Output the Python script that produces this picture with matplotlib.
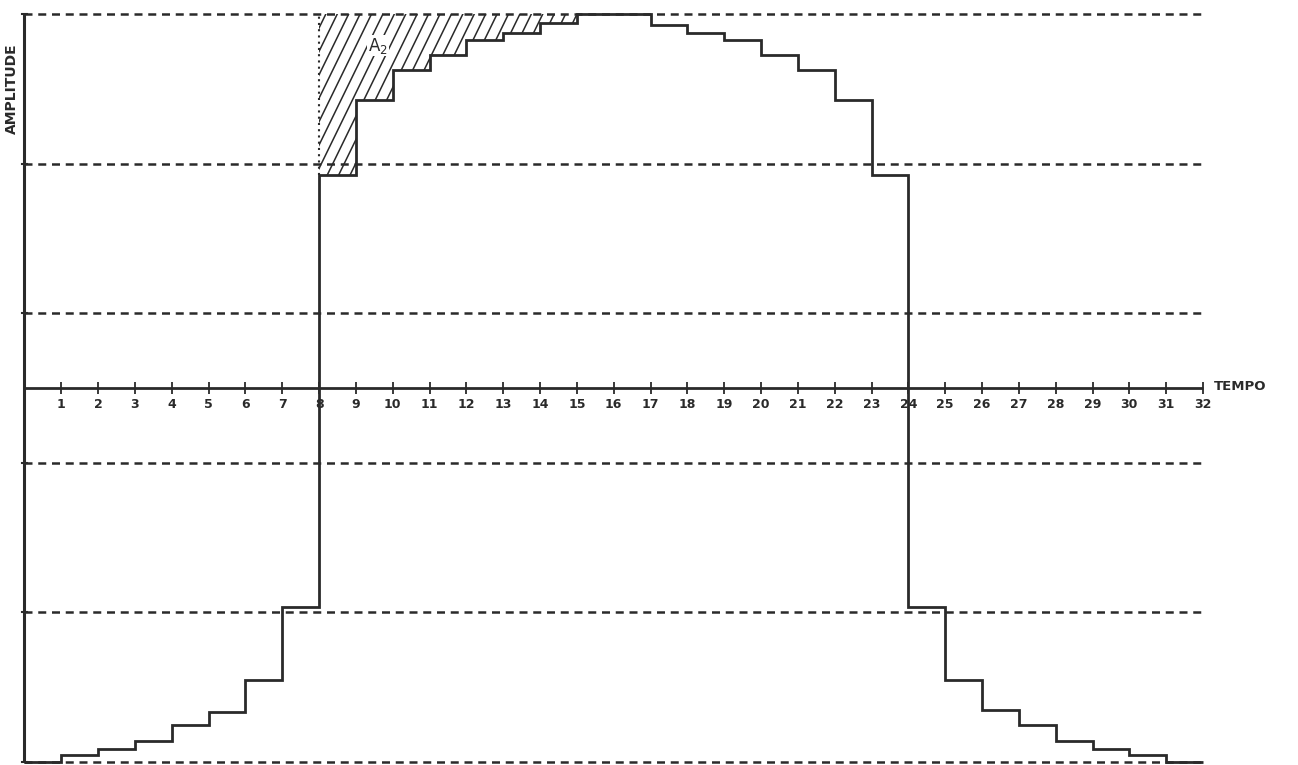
import numpy as np
import matplotlib
matplotlib.use('Agg')
import matplotlib.pyplot as plt
from matplotlib.collections import LineCollection

plt.rcParams.update({
    "font.family": "DejaVu Sans",
    "font.weight": "bold",
})

# quantised amplitude per time slot (slot k spans [k, k+1])
tempo_edges = list(range(33))
amplitude = [-1.0, -0.98, -0.965, -0.945, -0.90, -0.865, -0.78, -0.585,
             0.57, 0.77, 0.85, 0.89, 0.93, 0.95, 0.975, 1.0,
             1.0, 0.97, 0.95, 0.93, 0.89, 0.85, 0.77, 0.57,
             -0.585, -0.78, -0.86, -0.90, -0.945, -0.965, -0.98, -1.0]
tick_labels = [str(i) for i in range(1, 33)]
grid_levels = [1.0, 0.6, 0.2, -0.2, -0.6, -1.0]
hatch_start, hatch_end = 8, 15

INK = '#2a2a2a'

fig = plt.figure(figsize=(12.98, 7.65), dpi=100)
ax = fig.add_axes([0, 0, 1, 1])
ax.set_xlim(-0.665, 34.58)
ax.set_ylim(-1.008, 1.0374)
ax.axis('off')

# dashed reference levels
ax.hlines(grid_levels, 0, 32, colors=INK, linewidth=1.8,
          linestyles=[(0, (3.2, 2.3))])

# axes drawn by hand (old paper style)
ax.plot([0, 0], [-1.0, 1.0], color=INK, lw=2.2, solid_capstyle='butt')
ax.plot([0, 32], [0, 0], color=INK, lw=2.0, solid_capstyle='butt')
for lv in grid_levels:
    ax.plot([-0.08, 0.08], [lv, lv], color=INK, lw=1.5)
ticks = np.array(tempo_edges[1:])
ax.plot(ticks, np.zeros_like(ticks), ls='none', marker='|', ms=9, mew=1.3, color=INK)
for t, lab in zip(ticks, tick_labels):
    ax.text(t, -0.027, lab, ha='center', va='top', fontsize=9,
            fontweight='bold', color=INK)
ax.text(32.3, 0.003, 'TEMPO', ha='left', va='center', fontsize=9.5,
        fontweight='bold', color=INK)
ax.text(-0.33, 0.80, 'AMPLITUDE', rotation=90, ha='center', va='center',
        fontsize=10, fontweight='bold', color=INK)

# hatched area A2 between staircase and full amplitude
xs = np.array(tempo_edges[hatch_start:hatch_end + 1], dtype=float)
ys = np.array(amplitude[hatch_start:hatch_end + 1])
poly = ax.fill_between(xs, ys, 1.0, step='post', facecolor='none',
                       edgecolor='none', linewidth=0)
clip = poly.get_paths()[0]
slope = np.tan(np.radians(64)) * (36.83 / 374.0)
segs = []
for x0 in np.arange(hatch_start - 7, hatch_end + 0.5, 0.31):
    segs.append([(x0, -0.2), (x0 + 1.25 / slope, 1.05)])
lc = LineCollection(segs, colors=INK, linewidths=1.1)
ax.add_collection(lc)
lc.set_clip_path(clip, ax.transData)
ax.plot([hatch_start, hatch_start], [amplitude[hatch_start], 1.0],
        ls=(0, (1, 2)), color=INK, lw=1.5)
ax.text(9.6, 0.915, r'$\mathregular{A_2}$', ha='center', va='center',
        fontsize=12, fontweight='normal', color=INK,
        bbox=dict(facecolor='white', edgecolor='none', pad=0.5))

# staircase signal
ax.stairs(amplitude, tempo_edges, baseline=None, color=INK, linewidth=2.0)

fig.savefig('out.png', dpi=100, facecolor='white')
